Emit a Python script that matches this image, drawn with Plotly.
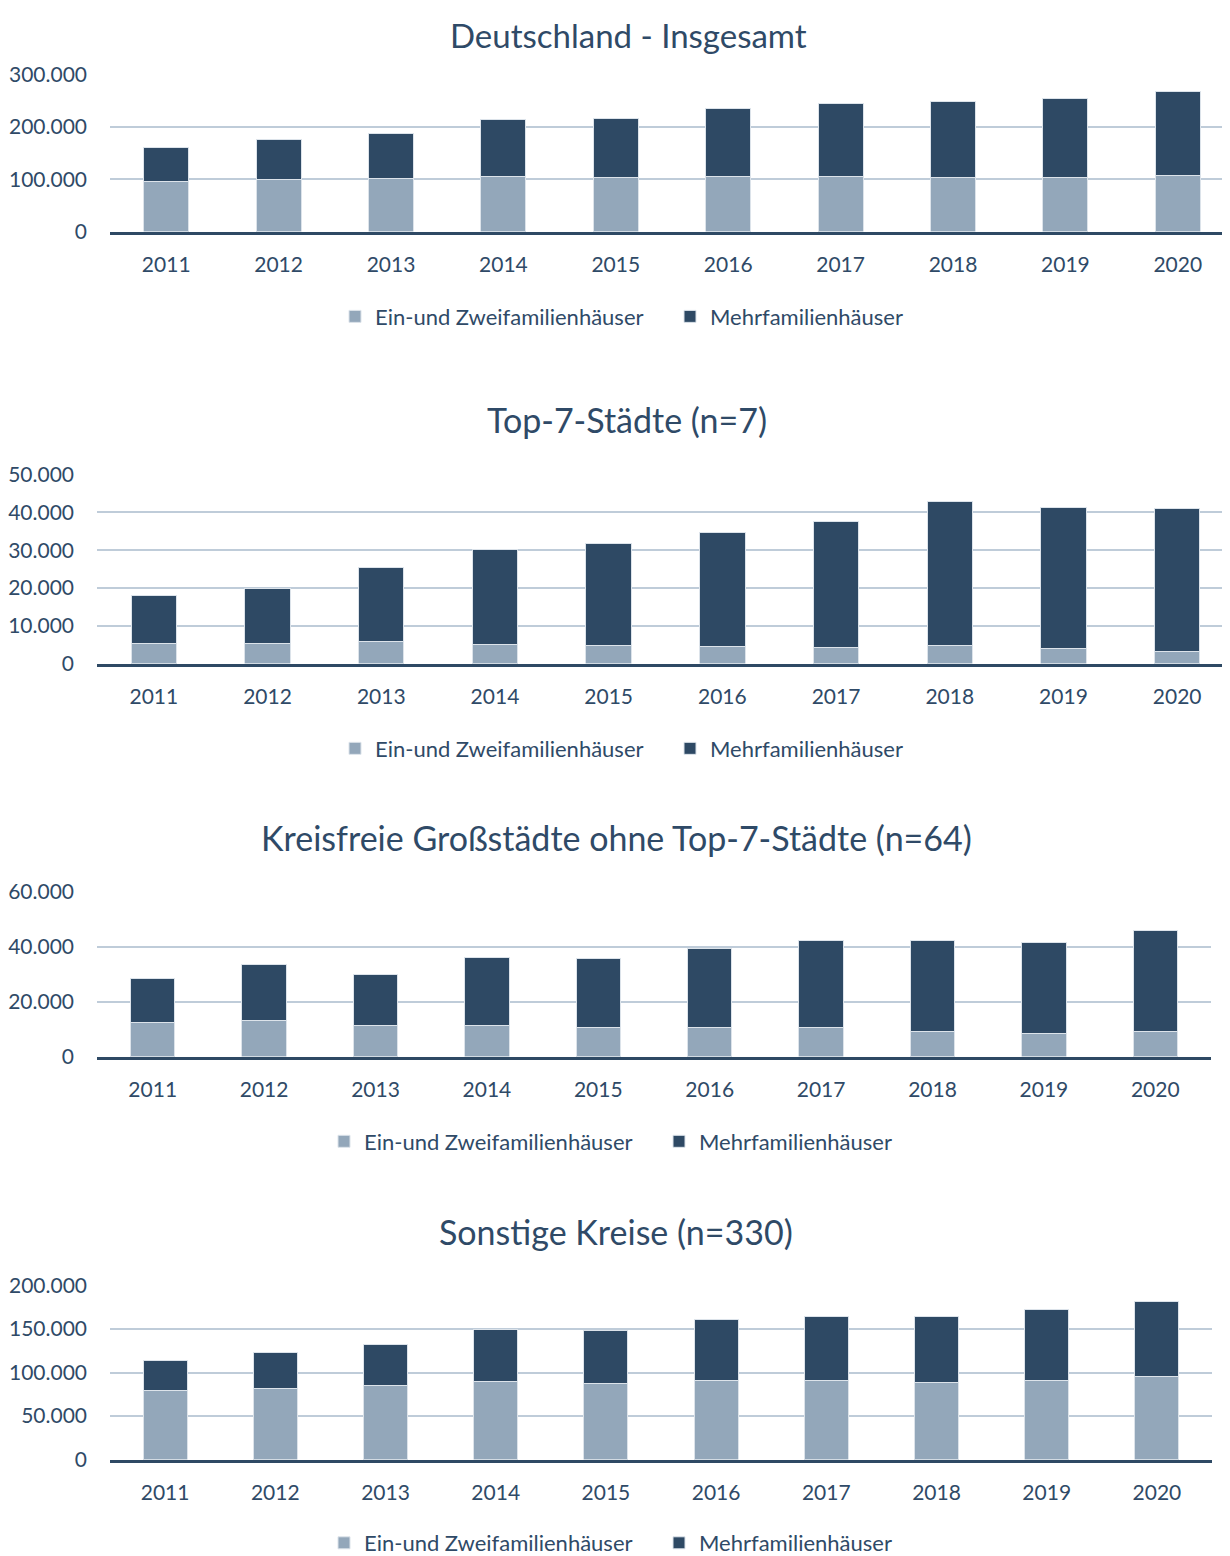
import plotly.graph_objects as go

W, H = 1230, 1556

years = ["2011", "2012", "2013", "2014", "2015", "2016", "2017", "2018", "2019", "2020"]

titles = ["Deutschland - Insgesamt", "Top-7-Städte (n=7)",
          "Kreisfreie Großstädte ohne Top-7-Städte (n=64)", "Sonstige Kreise (n=330)"]
series_names = ["Ein-und Zweifamilienhäuser", "Mehrfamilienhäuser"]

# Deutschland - Insgesamt
de_efh = [96400, 100000, 102000, 106000, 103000, 106000, 106000, 104000, 103500, 108000]
de_mfh = [64600, 76000, 86000, 109000, 113000, 129000, 139000, 145000, 151500, 160000]
# Top-7-Städte
t7_efh = [5300, 5300, 5800, 5100, 4800, 4400, 4300, 4750, 3900, 3250]
t7_mfh = [12800, 14600, 19600, 25000, 26900, 30300, 33200, 38050, 37500, 37650]
# Kreisfreie Großstädte ohne Top-7
kg_efh = [12300, 13000, 11300, 11400, 10600, 10500, 10700, 9250, 8400, 9000]
kg_mfh = [15900, 20300, 18500, 24600, 24900, 28700, 31600, 33050, 33200, 36700]
# Sonstige Kreise
sk_efh = [79200, 81800, 84900, 89800, 86800, 90600, 90600, 88300, 90300, 94900]
sk_mfh = [35100, 40900, 47000, 59700, 61600, 70400, 74200, 75700, 81700, 86400]

y_max = [300000, 50000, 60000, 200000]
y_dtick = [100000, 10000, 20000, 50000]

efh_all = [de_efh, t7_efh, kg_efh, sk_efh]
mfh_all = [de_mfh, t7_mfh, kg_mfh, sk_mfh]

LIGHT = "#93A7BA"
DARK = "#2E4964"
TEXT = "#2F4A67"
GRID = "#BFCCD9"
FONT = "Lato"

# target geometry (pixels in the final picture)
x_px = [(110, 1234), (97, 1234), (97, 1211), (110, 1212)]
y_px = [(232, 75), (664, 475), (1057, 892), (1460, 1286)]
title_px = [(628, 35), (627, 420), (616, 838), (616, 1232)]
title_size = [33, 34, 34, 34]
legend_px = [(670, 317), (670, 749), (659, 1142), (659, 1544)]


def fx(p):
    return (p - 8) / W


def fy(p):
    s = (p - 22.4) / 0.984
    return 1 - s / H


fig = go.Figure()
layout = {}
annotations = []
for i in range(4):
    sfx = "" if i == 0 else str(i + 1)
    xa, ya = "x" + sfx, "y" + sfx
    lg = "legend" + sfx
    fig.add_trace(go.Bar(x=years, y=efh_all[i], name=series_names[0], marker_color=LIGHT,
                         marker_line=dict(color="#DCE3EA", width=1), width=0.4,
                         xaxis=xa, yaxis=ya, legend=lg))
    fig.add_trace(go.Bar(x=years, y=mfh_all[i], name=series_names[1], marker_color=DARK,
                         marker_line=dict(color="#DCE3EA", width=1), width=0.4,
                         xaxis=xa, yaxis=ya, legend=lg))
    x0, x1 = x_px[i]
    yb, yt = y_px[i]
    layout["xaxis" + sfx] = dict(domain=[max(0, fx(x0)), min(1, fx(x1))], anchor=ya, type="category",
                                 showline=True, linewidth=3, linecolor=DARK,
                                 showgrid=False, ticks="", ticklabelstandoff=12,
                                 tickfont=dict(family=FONT, size=21, color=TEXT))
    layout["yaxis" + sfx] = dict(domain=[fy(yb), fy(yt)], anchor=xa,
                                 range=[0, y_max[i]], dtick=y_dtick[i], tickformat=",d",
                                 showgrid=True, gridcolor=GRID, gridwidth=2,
                                 zeroline=False, showline=False, ticks="",
                                 ticklabelstandoff=22,
                                 tickfont=dict(family=FONT, size=21, color=TEXT))
    lx, ly = legend_px[i]
    layout[lg] = dict(orientation="h", x=fx(lx), y=fy(ly), xanchor="center",
                      yanchor="middle", traceorder="normal", itemwidth=30,
                      entrywidth=290, entrywidthmode="pixels",
                      font=dict(family=FONT, size=22, color=TEXT),
                      bgcolor="rgba(0,0,0,0)")
    tx, ty = title_px[i]
    annotations.append(dict(text=titles[i], x=fx(tx), y=fy(ty), xref="paper", yref="paper",
                            xanchor="center", yanchor="middle", showarrow=False,
                            font=dict(family=FONT, size=title_size[i], color=TEXT)))

fig.update_layout(**layout)
fig.update_layout(width=W, height=H, margin=dict(l=0, r=0, t=0, b=0),
                  paper_bgcolor="white", plot_bgcolor="white",
                  barmode="stack", separators=",.", annotations=annotations,
                  font=dict(family=FONT, color=TEXT))

fig.write_html("out.html")
